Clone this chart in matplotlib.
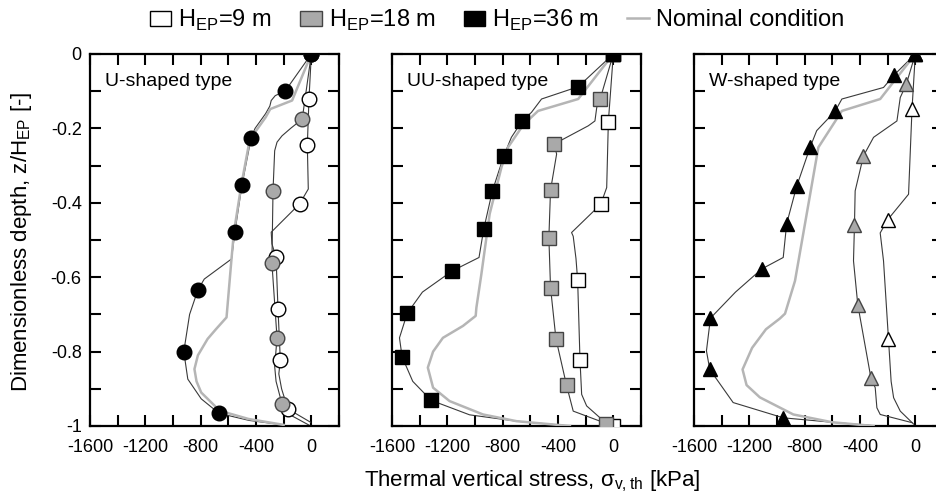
import matplotlib
matplotlib.use("Agg")
import matplotlib.pyplot as plt
from matplotlib.patches import Patch
from matplotlib.lines import Line2D
from matplotlib.ticker import MultipleLocator

plt.rcParams['font.family'] = ['Liberation Sans', 'DejaVu Sans']
plt.rcParams['mathtext.fontset'] = 'custom'
plt.rcParams['mathtext.rm'] = 'Liberation Sans'
plt.rcParams['axes.unicode_minus'] = False

# ---- U-shaped type ----
u_nom_x = [0, -139, -297, -330, -445, -505, -560, -577, -613, -690, -750, -820, -845, -830, -796, -662, -455, -200]
u_nom_z = [0, -0.125, -0.148, -0.17, -0.23, -0.35, -0.48, -0.55, -0.708, -0.74, -0.766, -0.81, -0.847, -0.88, -0.91, -0.959, -0.981, -0.997]
u36_x = [0, -188, -261, -290, -300, -330, -407, -436, -501, -553, -577, -774, -820, -880, -922, -893, -796, -667, -450, -200]
u36_z = [0, -0.099, -0.112, -0.125, -0.14, -0.16, -0.20, -0.227, -0.351, -0.479, -0.551, -0.605, -0.634, -0.70, -0.80, -0.874, -0.927, -0.966, -0.985, -0.997]
u36_mx = [0, -188, -436, -501, -553, -820, -922, -667]
u36_mz = [0, -0.099, -0.227, -0.351, -0.479, -0.634, -0.80, -0.966]
u18_x = [0, -66, -150, -212, -248, -265, -277, -285, -248, -265, -255, -212, -139, -5]
u18_z = [0, -0.175, -0.20, -0.22, -0.237, -0.26, -0.367, -0.562, -0.763, -0.84, -0.88, -0.941, -0.973, -1.0]
u18_mx = [0, -66, -277, -285, -248, -212]
u18_mz = [0, -0.175, -0.367, -0.562, -0.763, -0.941]
u9_x = [0, -17, -29, -22, -85, -290, -285, -255, -241, -224, -235, -215, -170, -5]
u9_z = [0, -0.121, -0.245, -0.363, -0.403, -0.479, -0.51, -0.547, -0.685, -0.823, -0.86, -0.90, -0.954, -0.99]
u9_mx = [0, -17, -29, -85, -255, -241, -224, -170]
u9_mz = [0, -0.121, -0.245, -0.403, -0.547, -0.685, -0.823, -0.954]

# ---- UU-shaped type ----
uu_nom_x = [0, -254, -544, -650, -760, -809, -894, -954, -990, -995, -1087, -1232, -1303, -1341, -1303, -1184, -942, -700, -314]
uu_nom_z = [0, -0.121, -0.153, -0.19, -0.25, -0.305, -0.43, -0.592, -0.682, -0.704, -0.731, -0.763, -0.80, -0.843, -0.897, -0.933, -0.969, -0.987, -1.0]
uu36_x = [0, -254, -519, -592, -657, -737, -792, -875, -937, -971, -1164, -1380, -1490, -1546, -1527, -1450, -1317, -1039, -700, -314]
uu36_z = [0, -0.088, -0.121, -0.157, -0.179, -0.224, -0.274, -0.369, -0.471, -0.547, -0.583, -0.64, -0.697, -0.763, -0.814, -0.88, -0.931, -0.97, -0.987, -1.0]
uu36_mx = [0, -254, -657, -792, -875, -937, -1164, -1490, -1527, -1317]
uu36_mz = [0, -0.088, -0.179, -0.274, -0.369, -0.471, -0.583, -0.697, -0.814, -0.931]
uu18_x = [0, -96, -120, -133, -181, -428, -410, -454, -466, -454, -415, -338, -290, -96, -53]
uu18_z = [0, -0.122, -0.144, -0.18, -0.193, -0.242, -0.269, -0.366, -0.494, -0.628, -0.765, -0.891, -0.96, -0.987, -0.994]
uu18_mx = [0, -96, -428, -454, -466, -454, -415, -338, -53]
uu18_mz = [0, -0.122, -0.242, -0.366, -0.494, -0.628, -0.765, -0.891, -0.994]
uu9_x = [0, -36, -48, -91, -302, -290, -270, -258, -241, -229, -193, -96, 0]
uu9_z = [0, -0.182, -0.359, -0.404, -0.48, -0.49, -0.55, -0.608, -0.823, -0.915, -0.946, -0.978, -1.0]
uu9_mx = [0, -36, -91, -258, -241, 0]
uu9_mz = [0, -0.182, -0.404, -0.608, -0.823, -1.0]

# ---- W-shaped type ----
w_nom_x = [0, -254, -531, -701, -870, -942, -979, -1080, -1180, -1249, -1220, -1124, -882, -600, -302]
w_nom_z = [0, -0.121, -0.153, -0.251, -0.61, -0.698, -0.711, -0.74, -0.79, -0.848, -0.89, -0.923, -0.969, -0.99, -1.0]
w36_x = [0, -152, -230, -531, -580, -713, -761, -858, -930, -955, -1111, -1300, -1481, -1510, -1486, -1317, -955, -600, -278]
w36_z = [0, -0.056, -0.09, -0.121, -0.154, -0.206, -0.251, -0.356, -0.456, -0.547, -0.578, -0.64, -0.710, -0.798, -0.848, -0.937, -0.978, -0.99, -1.0]
w36_mx = [0, -152, -580, -761, -858, -930, -1111, -1481, -1486, -955]
w36_mz = [0, -0.056, -0.154, -0.251, -0.356, -0.456, -0.578, -0.710, -0.848, -0.978]
w18_x = [0, -65, -109, -133, -302, -375, -435, -440, -447, -416, -321, -290, -278, -254, -24]
w18_z = [0, -0.081, -0.117, -0.18, -0.224, -0.274, -0.368, -0.46, -0.556, -0.674, -0.871, -0.897, -0.951, -0.969, -0.991]
w18_mx = [0, -65, -375, -440, -416, -321]
w18_mz = [0, -0.081, -0.274, -0.46, -0.674, -0.871]
w9_x = [0, -24, -49, -201, -254, -230, -194, -175, -157, -109, -12]
w9_z = [0, -0.148, -0.377, -0.446, -0.481, -0.556, -0.767, -0.88, -0.924, -0.96, -0.995]
w9_mx = [0, -24, -201, -194]
w9_mz = [0, -0.148, -0.446, -0.767]

titles = ['U-shaped type', 'UU-shaped type', 'W-shaped type']
markers = ['o', 's', '^']
xtick_vals = [-1600, -1200, -800, -400, 0]
ytick_vals = [0, -0.2, -0.4, -0.6, -0.8, -1]
ytick_labels = ['0', '-0.2', '-0.4', '-0.6', '-0.8', '-1']

panels = [
    (u_nom_x, u_nom_z, u36_x, u36_z, u36_mx, u36_mz, u18_x, u18_z, u18_mx, u18_mz, u9_x, u9_z, u9_mx, u9_mz),
    (uu_nom_x, uu_nom_z, uu36_x, uu36_z, uu36_mx, uu36_mz, uu18_x, uu18_z, uu18_mx, uu18_mz, uu9_x, uu9_z, uu9_mx, uu9_mz),
    (w_nom_x, w_nom_z, w36_x, w36_z, w36_mx, w36_mz, w18_x, w18_z, w18_mx, w18_mz, w9_x, w9_z, w9_mx, w9_mz),
]

line_c = '#3a3a3a'
nom_c = '#b5b5b5'
gray_fill = '#a9a9a9'

fig = plt.figure(figsize=(9.36, 4.99), dpi=100)
lefts = [90, 392, 694]

for i, p in enumerate(panels):
    (nx, nz, x36, z36, mx36, mz36, x18, z18, mx18, mz18, x9, z9, mx9, mz9) = p
    ax = fig.add_axes([lefts[i] / 936, 73 / 499, 249 / 936, 372 / 499])
    ms = 10 if markers[i] == '^' else 10.5
    ax.plot(x9, z9, color=line_c, lw=0.8, zorder=2)
    ax.plot(x18, z18, color=line_c, lw=0.8, zorder=2)
    ax.plot(x36, z36, color=line_c, lw=0.8, zorder=2)
    ax.plot(nx, nz, color=nom_c, lw=1.8, zorder=3)
    ax.plot(mx9, mz9, ls='none', marker=markers[i], ms=ms, mfc='white', mec='black', mew=1.0, zorder=4)
    ax.plot(mx18, mz18, ls='none', marker=markers[i], ms=ms, mfc=gray_fill, mec='#444444', mew=1.0, zorder=5)
    ax.plot(mx36, mz36, ls='none', marker=markers[i], ms=ms, mfc='black', mec='black', mew=1.0, zorder=6)

    ax.set_xlim(-1600, 200)
    ax.set_ylim(-1, 0)
    ax.set_xticks(xtick_vals)
    ax.set_xticklabels([str(v) for v in xtick_vals])
    ax.xaxis.set_minor_locator(MultipleLocator(200))
    ax.set_yticks(ytick_vals)
    ax.yaxis.set_minor_locator(MultipleLocator(0.1))
    if i == 0:
        ax.set_yticklabels(ytick_labels)
    else:
        ax.set_yticklabels([])
    ax.tick_params(which='both', direction='in', top=True, right=True,
                   length=8, width=1.5, labelsize=13)
    ax.tick_params(axis='x', pad=9)
    ax.tick_params(axis='y', pad=6)
    for s in ax.spines.values():
        s.set_linewidth(1.6)
    ax.text(0.06, 0.925, titles[i], transform=ax.transAxes, fontsize=14, va='center', ha='left')

fig.text(532 / 936, 1 - 481 / 499, 'Thermal vertical stress, σ$_{\\rm v,th}$ [kPa]',
         ha='center', va='center', fontsize=16)
fig.text(22 / 936, 0.515, 'Dimensionless depth, z/H$_{\\rm EP}$ [-]',
         ha='center', va='center', rotation=90, fontsize=16)

handles = [
    Patch(facecolor='white', edgecolor='black', lw=1.0),
    Patch(facecolor=gray_fill, edgecolor='#444444', lw=1.0),
    Patch(facecolor='black', edgecolor='black', lw=1.0),
    Line2D([0], [0], color=nom_c, lw=1.8),
]
labels = ['H$_{\\rm EP}$=9 m', 'H$_{\\rm EP}$=18 m', 'H$_{\\rm EP}$=36 m', 'Nominal condition']
fig.legend(handles, labels, ncol=4, frameon=False, loc='center left',
           bbox_to_anchor=(150 / 936, 1 - 20 / 499), fontsize=17,
           handlelength=0.9, handleheight=0.6, handletextpad=0.3,
           columnspacing=1.2, borderpad=0, borderaxespad=0)

fig.savefig('out.png', dpi=100)
